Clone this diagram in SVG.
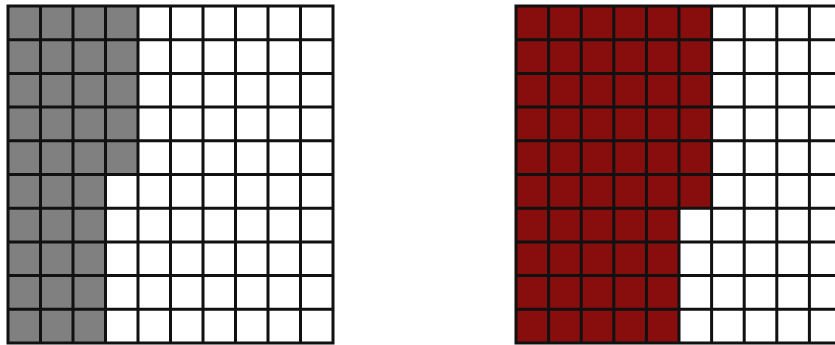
<svg xmlns="http://www.w3.org/2000/svg" width="835" height="345" viewBox="0 0 835 345">
<style>
.grid{fill:none;stroke:#111;stroke-width:3;stroke-linecap:square}
.gray{fill:#808080}
.red{fill:#880e0e}
</style>
<rect width="835" height="345" fill="#fff"/>
<g id="left-grid">
<path class="gray" d="M8 6H138V174.5H105.5V343H8Z"/>
<path class="grid" d="M8 6V343M40.5 6V343M73 6V343M105.5 6V343M138 6V343M170.5 6V343M203 6V343M235.5 6V343M268 6V343M300.5 6V343M333 6V343
M8 6H333M8 39.7H333M8 73.4H333M8 107.1H333M8 140.8H333M8 174.5H333M8 208.2H333M8 241.9H333M8 275.6H333M8 309.3H333M8 343H333"/>
</g>
<g id="right-grid">
<path class="red" d="M516 6H711.6V208.2H679V343H516Z"/>
<path class="grid" d="M516 6V343M548.6 6V343M581.2 6V343M613.8 6V343M646.4 6V343M679 6V343M711.6 6V343M744.2 6V343M776.8 6V343M809.4 6V343M842 6V343
M516 6H842M516 39.7H842M516 73.4H842M516 107.1H842M516 140.8H842M516 174.5H842M516 208.2H842M516 241.9H842M516 275.6H842M516 309.3H842M516 343H842"/>
</g>
</svg>
